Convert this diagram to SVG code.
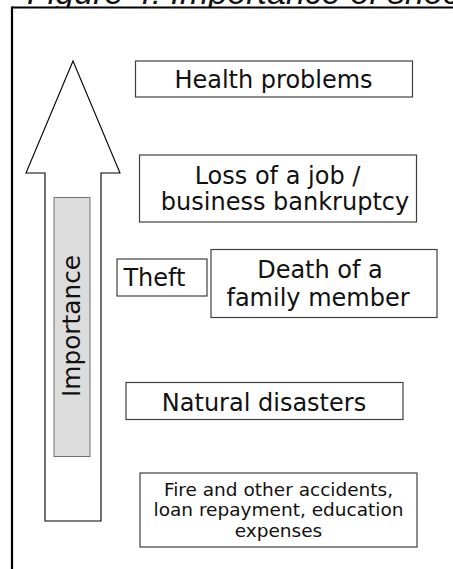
<svg xmlns="http://www.w3.org/2000/svg" width="453" height="569" viewBox="0 0 453 569">
  <style>
    .box { fill: #ffffff; stroke: #404040; stroke-width: 1.2; }
    .lbl { font-family: "DejaVu Sans", Verdana, sans-serif; font-size: 24px; fill: #111111; text-anchor: middle; }
    .small { font-size: 18.5px; }
    .frame { stroke: #000000; stroke-width: 2.2; fill: none; }
  </style>
  <defs>
    <clipPath id="captionClip">
      <rect x="0" y="0" width="453" height="7.5"/>
    </clipPath>
  </defs>

  <!-- page frame and the caption that sits above its top edge -->
  <g id="frame">
    <text x="27" y="4" clip-path="url(#captionClip)" font-family="Liberation Sans, Arial, sans-serif" font-style="italic" font-size="34" fill="#111">Figure 4: Importance of shocks</text>
    <line class="frame" x1="12" y1="7.5" x2="453" y2="7.5"/>
    <line class="frame" x1="12" y1="6.5" x2="12" y2="569"/>
  </g>

  <!-- upward arrow showing increasing importance -->
  <g id="importance-arrow">
    <path d="M73,61 L120,173 L101,173 L101,521 L45,521 L45,173 L26,173 Z" fill="#ffffff" stroke="#000000" stroke-width="1.1" stroke-linejoin="miter"/>
    <rect x="54" y="197.5" width="36" height="259" fill="#dcdcdc" stroke="#707070" stroke-width="1"/>
    <text class="lbl" transform="translate(80,326) rotate(-90)" textLength="142" lengthAdjust="spacingAndGlyphs">Importance</text>
  </g>

  <g id="connectors"/>

  <g id="health-problems">
    <rect class="box" x="135.5" y="61" width="277" height="36"/>
    <text class="lbl" x="273.5" y="88">Health problems</text>
  </g>

  <g id="job-loss">
    <rect class="box" x="139.5" y="155" width="277" height="67"/>
    <text class="lbl" x="277.5" y="183.5">Loss of a job /</text>
    <text class="lbl" x="285" y="209.5">business bankruptcy</text>
  </g>

  <g id="theft">
    <rect class="box" x="117" y="259" width="90" height="37"/>
    <text class="lbl" x="154.5" y="286">Theft</text>
  </g>

  <g id="family-death">
    <rect class="box" x="211" y="249.5" width="226" height="68"/>
    <text class="lbl" x="320" y="278">Death of a</text>
    <text class="lbl" x="318" y="306">family member</text>
  </g>

  <g id="natural-disasters">
    <rect class="box" x="126" y="382.5" width="277" height="37"/>
    <text class="lbl" x="264" y="410.5">Natural disasters</text>
  </g>

  <g id="other-shocks">
    <rect class="box" x="140" y="473" width="277" height="74"/>
    <text class="lbl small" x="278.5" y="496">Fire and other accidents,</text>
    <text class="lbl small" x="278.5" y="516">loan repayment, education</text>
    <text class="lbl small" x="278.5" y="537">expenses</text>
  </g>
</svg>
